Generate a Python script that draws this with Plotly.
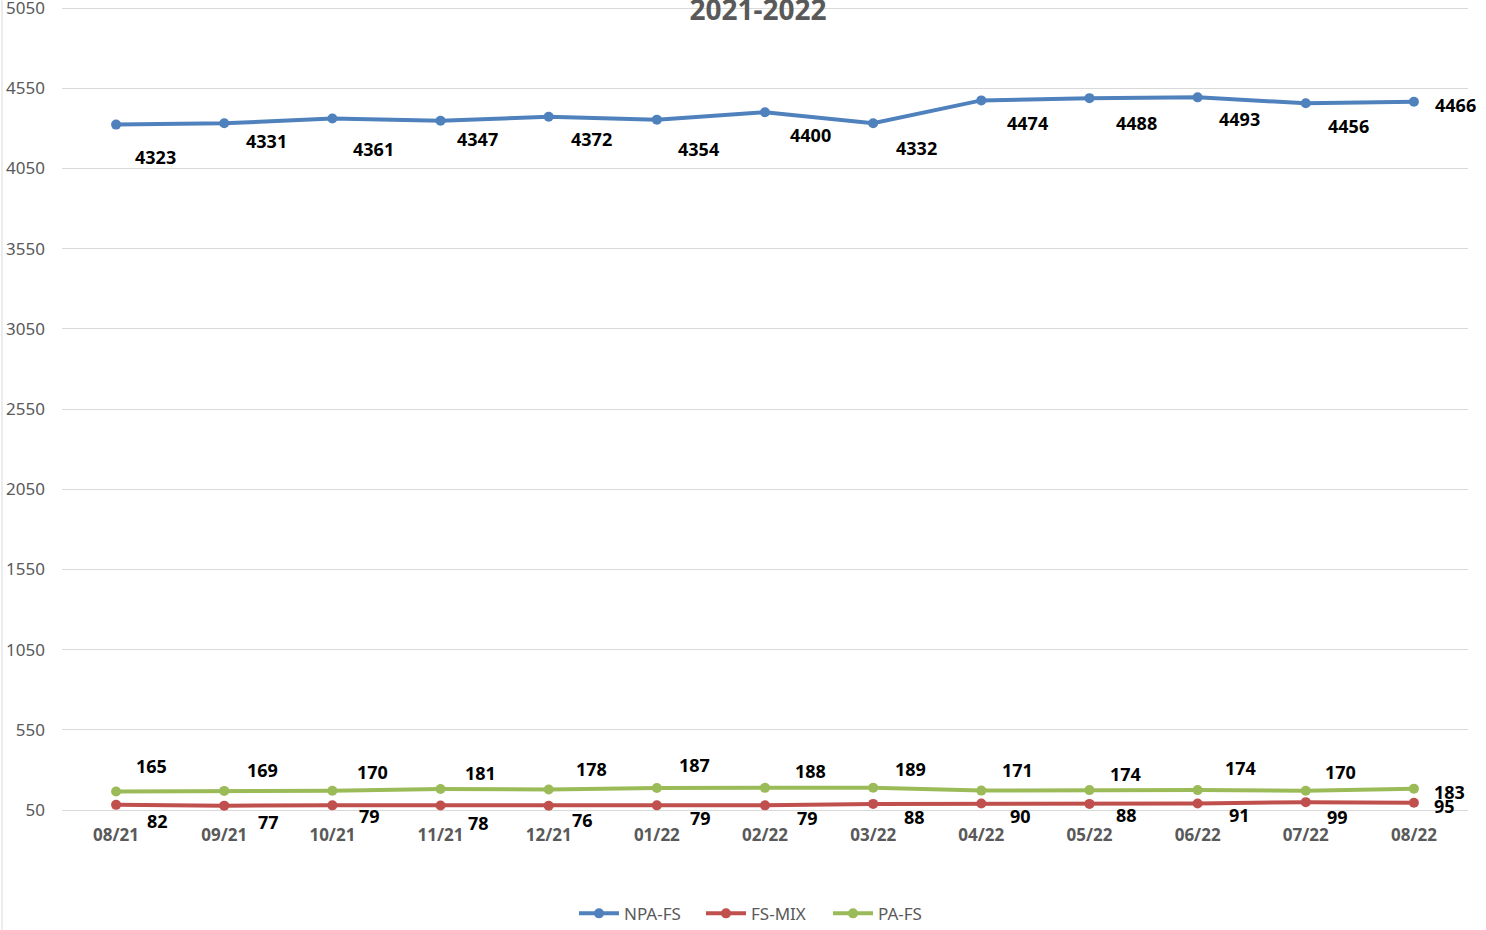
import plotly.graph_objects as go

months = ["08/21", "09/21", "10/21", "11/21", "12/21", "01/22", "02/22",
          "03/22", "04/22", "05/22", "06/22", "07/22", "08/22"]
npa_fs = [4323, 4331, 4361, 4347, 4372, 4354, 4400, 4332, 4474, 4488, 4493, 4456, 4466]
fs_mix = [82, 77, 79, 78, 76, 79, 79, 88, 90, 88, 91, 99, 95]
pa_fs = [165, 169, 170, 181, 178, 187, 188, 189, 171, 174, 174, 170, 183]
y_ticks = list(range(50, 5051, 500))

# label offsets (pixels) for the data labels, style only
npa_dx = [39, 42, 41, 37, 43, 42, 45, 43, 46, 47, 42, 43, 42]
npa_dy = [-32, -18, -30, -18, -22, -29, -23, -25, -23, -25, -22, -23, -3]
mix_dx = [41, 44, 37, 38, 34, 44, 42, 41, 39, 37, 42, 32, 31]
mix_dy = [-16, -16, -11, -17, -14, -13, -13, -13, -12, -11, -12, -15, -3]
pa_dx = [35, 38, 40, 40, 43, 38, 45, 37, 36, 36, 43, 35, 36]
pa_dy = [26, 21, 19, 16, 20, 23, 17, 19, 21, 16, 22, 19, -3]

FONT = "Noto Sans"
series = [
    ("NPA-FS", npa_fs, "#4f81bd", npa_dx, npa_dy),
    ("FS-MIX", fs_mix, "#c0504d", mix_dx, mix_dy),
    ("PA-FS", pa_fs, "#9bbb59", pa_dx, pa_dy),
]

fig = go.Figure()
annotations = []
for name, vals, color, dxs, dys in series:
    fig.add_trace(go.Scatter(
        x=months, y=vals, name=name, mode="lines+markers",
        line=dict(color=color, width=4), marker=dict(color=color, size=10),
    ))
    for m, v, dx, dy in zip(months, vals, dxs, dys):
        annotations.append(dict(
            x=m, y=v, xref="x", yref="y", text=str(v), showarrow=False,
            xshift=dx, yshift=dy,
            font=dict(family=FONT, size=18, color="#000000", weight="bold"),
        ))

fig.update_layout(
    width=1486, height=930,
    paper_bgcolor="white", plot_bgcolor="white",
    margin=dict(l=62, r=18, t=6, b=118, autoexpand=False),
    title=dict(text="<b>2021-2022</b>", x=758 / 1486, xanchor="center",
               yref="container", y=1 - 10 / 930, yanchor="middle",
               font=dict(family=FONT, size=28, color="#595959")),
    xaxis=dict(type="category", range=[-0.5, 12.5], showgrid=False,
               showline=False, ticks="", ticklabelstandoff=11,
               tickfont=dict(family=FONT, size=17, color="#595959", weight="bold")),
    yaxis=dict(range=[37.5, 5062.5], tickvals=y_ticks, showgrid=True,
               gridcolor="#d9d9d9", gridwidth=1, zeroline=False, showline=False,
               ticks="", ticklabelstandoff=16, ticklabeloverflow="allow",
               tickfont=dict(family=FONT, size=17, color="#595959")),
    legend=dict(orientation="h", x=(574 - 62) / 1406, xanchor="left", y=-0.104,
                yanchor="top", font=dict(family=FONT, size=17, color="#595959"),
                itemwidth=40, entrywidth=72, entrywidthmode="pixels"),
    annotations=annotations,
    shapes=[dict(type="line", xref="paper", yref="paper",
                 x0=(2 - 62) / 1406, x1=(2 - 62) / 1406, y0=-0.16, y1=1.02,
                 line=dict(color="#d9d9d9", width=1))],
)

fig.write_html("out.html", config={"displayModeBar": False},
               post_script="document.body.style.margin='0';")
